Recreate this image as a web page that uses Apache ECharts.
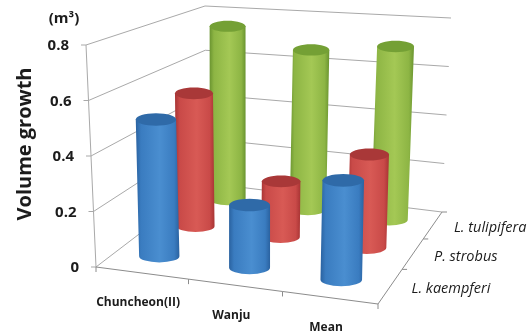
<!DOCTYPE html>
<html>
<head>
<meta charset="utf-8">
<style>html,body{margin:0;padding:0;background:#fff}#chart{width:531px;height:333px}</style>
<script src="https://cdn.jsdelivr.net/npm/echarts@6/dist/echarts.min.js"></script>
</head>
<body>
<div id="chart"></div>
<script>
// Tree volume growth by site and species, shown as a 3D cylinder chart.
const categories = ['Chuncheon(II)', 'Wanju', 'Mean'];
const speciesNames = ['L. kaempferi', 'P. strobus', 'L. tulipifera'];
const yTicks = [0, 0.2, 0.4, 0.6, 0.8];
const kaempferi = [0.505, 0.225, 0.345];
const strobus = [0.53, 0.215, 0.35];
const tulipifera = [0.745, 0.665, 0.7];

const yMax = 0.8;
const FONT = '"Open Sans", "Noto Sans", sans-serif';

// Corners of the floor and of the top plane of the plot box: [front-left, front-right, back-right, back-left].
const floorQuad = [[96, 267], [378, 304], [442, 212], [206, 183]];
const topQuad = [[86, 45], [384, 60], [451, 18], [205, 6]];
// Cylinders sit slightly left of their cell centres, in fractions of a cell.
const cylinderShift = -0.03;

// Projective map from the unit square onto a quadrilateral.
function quadMap(q) {
  const [p0, p1, p2, p3] = q;
  const dx1 = p1[0] - p2[0], dx2 = p3[0] - p2[0], sx = p0[0] - p1[0] + p2[0] - p3[0];
  const dy1 = p1[1] - p2[1], dy2 = p3[1] - p2[1], sy = p0[1] - p1[1] + p2[1] - p3[1];
  const den = dx1 * dy2 - dx2 * dy1;
  const g = (sx * dy2 - dx2 * sy) / den, h = (dx1 * sy - sx * dy1) / den;
  const a = p1[0] - p0[0] + g * p1[0], b = p3[0] - p0[0] + h * p3[0], c = p0[0];
  const d = p1[1] - p0[1] + g * p1[1], e = p3[1] - p0[1] + h * p3[1], f = p0[1];
  return (u, s) => {
    const w = g * u + h * s + 1;
    return [(a * u + b * s + c) / w, (d * u + e * s + f) / w];
  };
}
const floorAt = quadMap(floorQuad);
const topAt = quadMap(topQuad);

// u: along the sites, s: into the depth, t: fraction of the height scale.
function project(u, s, t) {
  const a = floorAt(u, s), b = topAt(u, s);
  return [a[0] + (b[0] - a[0]) * t, a[1] + (b[1] - a[1]) * t];
}

// Reads the site and height through the hidden axes and returns normalised positions.
function scaled(api, catOffset) {
  const px = api.coord([api.value(0), api.value(1)]);
  const size = api.getWidth();
  const cellW = size / categories.length;
  return { u: (px[0] + (catOffset || 0) * cellW) / size, t: 1 - px[1] / api.getHeight() };
}

const gridLine = { stroke: '#a9a9a9', lineWidth: 1, fill: null };
const edgeLine = { stroke: '#8c8c8c', lineWidth: 1, fill: null };
function line(a, b, style) {
  return { type: 'line', shape: { x1: a[0], y1: a[1], x2: b[0], y2: b[1] }, style: style || gridLine };
}
function label(text, x, y, font, align) {
  return { type: 'text', style: { text, x, y, font, fill: '#1c1c1c', align: align || 'center', verticalAlign: 'middle' } };
}

// Wall gridlines, height ticks and their labels.
function renderWalls(params, api) {
  const t = api.value(1) / yMax;
  const front = project(0, 0, t), back = project(0, 1, t), right = project(1, 1, t);
  const children = [line(front, back), line(back, right), line(front, [front[0] - 5, front[1]])];
  if (params.dataIndex === 0) children.push(line(front, project(0, 0, 1)));
  const v = api.value(1);
  children.push(label(v === 0 ? '0' : v.toFixed(1), front[0] - 17, front[1] + 1, 'bold 15px ' + FONT, 'right'));
  return { type: 'group', children };
}

// Floor outline, site ticks and site labels.
function renderSites(params, api) {
  const i = params.dataIndex, n = categories.length;
  const a = floorAt(i / n, 0), b = floorAt((i + 1) / n, 0), mid = floorAt((i + 0.5) / n, 0);
  const children = [line(a, b, edgeLine), line(b, [b[0], b[1] + 5], edgeLine)];
  if (i === 0) children.push(line(a, [a[0], a[1] + 5], edgeLine));
  children.push(label(categories[i], mid[0] - 4, mid[1] + 30, 'bold 12px ' + FONT));
  return { type: 'group', children };
}

// Right floor edge, depth ticks and species labels.
function renderDepth(params, api) {
  const i = params.dataIndex, n = speciesNames.length;
  const a = floorAt(1, i / n), b = floorAt(1, (i + 1) / n), mid = floorAt(1, (i + 0.5) / n);
  const children = [line(a, b, edgeLine), line(b, [b[0] + 5, b[1]], edgeLine)];
  children.push(label(speciesNames[i], mid[0] + 21, mid[1] + 3, 'italic 14.5px ' + FONT, 'left'));
  return { type: 'group', children };
}

// One cylinder: shaded body with a rounded base, plus a darker cap.
function cylinderRenderer(depthIndex, colors) {
  const s = (depthIndex + 0.5) / speciesNames.length;
  return function (params, api) {
    const p = scaled(api, cylinderShift);
    const base = project(p.u, s, 0), top = project(p.u, s, p.t);
    const du = 0.225 / categories.length;
    const rx = (floorAt(p.u + du, s)[0] - floorAt(p.u - du, s)[0]) / 2;
    const ry = rx * 0.31;
    const body = `M${top[0] - rx} ${top[1]} L${base[0] - rx} ${base[1]} A${rx} ${ry} 0 0 0 ${base[0] + rx} ${base[1]} L${top[0] + rx} ${top[1]} Z`;
    const shade = new echarts.graphic.LinearGradient(0, 0, 1, 0, [
      { offset: 0, color: colors.edge },
      { offset: 0.12, color: colors.side },
      { offset: 0.55, color: colors.light },
      { offset: 0.88, color: colors.side },
      { offset: 1, color: colors.edge }
    ]);
    return {
      type: 'group',
      children: [
        { type: 'path', shape: { pathData: body }, style: { fill: shade } },
        { type: 'ellipse', shape: { cx: top[0], cy: top[1], rx, ry }, style: { fill: colors.cap } }
      ]
    };
  };
}

const palette = {
  blue: { edge: '#2a62a0', side: '#3a7cc0', light: '#4a8ed0', cap: '#2f6aa8' },
  red: { edge: '#a83434', side: '#c94a48', light: '#d85a55', cap: '#a93838' },
  green: { edge: '#6a9430', side: '#8db544', light: '#a4c855', cap: '#74a035' }
};

function cylinderSeries(name, values, depthIndex, colors, z) {
  return {
    type: 'custom', name, z,
    renderItem: cylinderRenderer(depthIndex, colors),
    data: values.map((v, i) => [i, v])
  };
}

const chart = echarts.init(document.getElementById('chart'));
chart.setOption({
  animation: false,
  backgroundColor: '#fff',
  grid: { left: 0, right: 0, top: 0, bottom: 0 },
  xAxis: { type: 'category', data: categories, show: false },
  yAxis: { type: 'value', min: 0, max: yMax, interval: 0.2, show: false },
  graphic: [
    { type: 'text', x: 25, y: 144, rotation: Math.PI / 2, silent: true,
      style: { text: 'Volume growth', font: 'bold 20px ' + FONT, fill: '#1c1c1c', align: 'center', verticalAlign: 'middle' } },
    { type: 'text', x: 64, y: 19, silent: true,
      style: { text: '(m³)', font: 'bold 15px ' + FONT, fill: '#1c1c1c', align: 'center', verticalAlign: 'middle' } }
  ],
  series: [
    { type: 'custom', name: 'walls', z: 1, renderItem: renderWalls, data: yTicks.map(v => [0, v]) },
    { type: 'custom', name: 'sites', z: 1, renderItem: renderSites, data: categories.map((c, i) => [i, 0]) },
    { type: 'custom', name: 'depth', z: 1, renderItem: renderDepth, data: speciesNames.map(() => [2, 0]) },
    cylinderSeries(speciesNames[2], tulipifera, 2, palette.green, 2),
    cylinderSeries(speciesNames[1], strobus, 1, palette.red, 3),
    cylinderSeries(speciesNames[0], kaempferi, 0, palette.blue, 4)
  ]
});
</script>
</body>
</html>
